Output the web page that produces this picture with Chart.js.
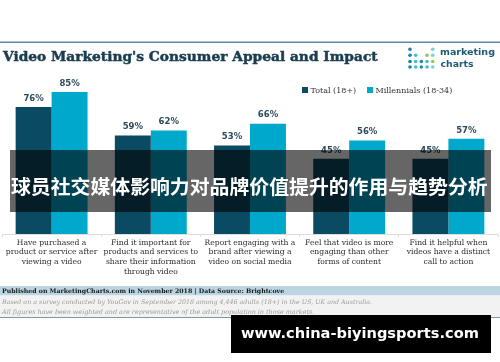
<!DOCTYPE html>
<html><head><meta charset="utf-8">
<script src="https://cdn.jsdelivr.net/npm/chart.js@4"></script>
<style>html,body{margin:0;padding:0;background:#fff}#wrap{width:500px;height:362px;position:relative}</style>
</head><body><div id="wrap"><canvas id="c" width="500" height="362"></canvas></div>
<script>
const categories = [
  ["Have purchased a","product or service after","viewing a video"],
  ["Find it important for","products and services to","share their information","through video"],
  ["Report engaging with a","brand after viewing a","video on social media"],
  ["Feel that video is more","engaging than other","forms of content"],
  ["Find it helpful when","videos have a distinct","call to action"]
];
const totalValues = [76, 59, 53, 45, 45];
const millennialValues = [85, 62, 66, 56, 57];
const seriesNames = ["Total (18+)", "Millennials (18-34)"];
const titleText = "Video Marketing's Consumer Appeal and Impact";
const footerLines = [
  "Published on MarketingCharts.com in November 2018 | Data Source: Brightcove",
  "Based on a survey conducted by YouGov in September 2018 among 4,446 adults (18+) in the US, UK and Australia.",
  "All figures have been weighted and are representative of the adult population in those markets."
];
const overlayText = "球员社交媒体影响力对品牌价值提升的作用与趋势分析";
const watermarkText = "www.china-biyingsports.com";

const DARK = "#0b4a63", LIGHT = "#00a9cc";
const SERIF = "'DejaVu Serif', 'Liberation Serif', serif";
const SANS = "'DejaVu Sans', 'Liberation Sans', sans-serif";

function fitText(ctx, text, x, y, width, weight, family, baseSize, strokeW) {
  let size = baseSize;
  ctx.font = weight + " " + size + "px " + family;
  const w = ctx.measureText(text).width;
  size = size * width / w;
  ctx.font = weight + " " + size + "px " + family;
  ctx.fillText(text, x, y);
  if (strokeW) { ctx.strokeStyle = ctx.fillStyle; ctx.lineWidth = strokeW; ctx.strokeText(text, x, y); }
}

const decor = {
  id: 'decor',
  beforeDraw(chart) {
    const ctx = chart.ctx;
    ctx.save();
    ctx.fillStyle = "#fff"; ctx.fillRect(0,0,500,362);
    ctx.fillStyle = "#5f8aa3"; ctx.fillRect(0, 41.5, 500, 1.5);
    ctx.fillStyle = "#1b3d50"; ctx.textBaseline = "middle"; ctx.textAlign = "left";
    fitText(ctx, titleText, 3, 57, 375, "bold", SERIF, 15, 0.5);
    // logo dots
    const cols = [410, 415.7, 421.3, 427, 432.7];
    const rows = [49.3, 55.3, 61.5, 67];
    const pattern = [
      ["#1a7fae", 0, 0, 0, "#74d2da"],
      ["#1a7fae", "#3cc0d0", 0, "#8ccc50", "#74d2da"],
      ["#1a7fae", "#3cc0d0", "#2488b5", "#3cc0d0", "#8ccc50"],
      ["#1a7fae", "#3cc0d0", "#2488b5", "#3cc0d0", "#74d2da"]
    ];
    pattern.forEach((r, ri) => r.forEach((c, ci) => {
      if (!c) return;
      ctx.fillStyle = c;
      ctx.beginPath(); ctx.arc(cols[ci], rows[ri], 1.8, 0, Math.PI*2); ctx.fill();
    }));
    ctx.fillStyle = "#1c5a6f";
    fitText(ctx, "marketing", 440, 53, 55, "bold", SANS, 11);
    fitText(ctx, "charts", 440.5, 65, 33, "bold", SANS, 11);
    // legend
    chart.data.datasets.forEach((ds, i) => {
      const x0 = i === 0 ? 302 : 367;
      ctx.fillStyle = ds.backgroundColor;
      ctx.fillRect(x0, 87, 6, 6);
      ctx.fillStyle = "#333";
      ctx.font = "8px " + SERIF;
      ctx.fillText(ds.label, x0 + 8.5, 90.5);
    });
    ctx.restore();
  },
  afterDatasetsDraw(chart) {
    const ctx = chart.ctx;
    ctx.save();
    ctx.font = "bold 8.5px " + SANS;
    ctx.fillStyle = "#2d4b5b";
    ctx.textAlign = "center"; ctx.textBaseline = "middle";
    chart.data.datasets.forEach((ds, i) => {
      chart.getDatasetMeta(i).data.forEach((bar, j) => {
        ctx.fillText(ds.data[j] + "%", bar.x, bar.y - 8.5);
      });
    });
    ctx.restore();
  },
  afterDraw(chart) {
    const ctx = chart.ctx;
    ctx.save();
    ctx.fillStyle = "#bcd5e2"; ctx.fillRect(0, 286, 500, 9.5);
    ctx.fillStyle = "#f2f2f2"; ctx.fillRect(0, 295.5, 500, 21.5);
    ctx.fillStyle = "#7d9aab"; ctx.fillRect(0, 317, 500, 1);
    ctx.textAlign = "left"; ctx.textBaseline = "middle";
    ctx.fillStyle = "#1a1a1a";
    fitText(ctx, footerLines[0], 2, 291, 283, "bold", SERIF, 7.5);
    ctx.fillStyle = "#9a9a9a";
    fitText(ctx, footerLines[1], 2, 302, 371, "italic", SERIF, 7);
    fitText(ctx, footerLines[2], 2, 312, 313, "italic", SERIF, 7);
    ctx.fillStyle = "rgba(0,0,0,0.6)";
    ctx.fillRect(10, 150, 481, 62);
    ctx.fillStyle = "#fff"; ctx.textAlign = "left";
    fitText(ctx, overlayText, 11, 186, 477, "bold", "'Noto Sans CJK SC', sans-serif", 21);
    ctx.fillStyle = "#000"; ctx.fillRect(231, 315, 260, 38);
    ctx.fillStyle = "#fff";
    fitText(ctx, watermarkText, 241, 334.5, 238, "bold", SANS, 18);
    ctx.restore();
  }
};

new Chart(document.getElementById('c'), {
  type: 'bar',
  data: {
    labels: categories,
    datasets: [
      { label: seriesNames[0], data: totalValues, backgroundColor: DARK },
      { label: seriesNames[1], data: millennialValues, backgroundColor: LIGHT }
    ]
  },
  options: {
    responsive: false, animation: false,
    layout: { padding: { top: 67, left: 2, right: 2, bottom: 0 } },
    datasets: { bar: { barPercentage: 1.0, categoryPercentage: 0.725, borderWidth: 0 } },
    plugins: { legend: { display: false }, tooltip: { enabled: false } },
    scales: {
      y: { display: false, min: 0, max: 100 },
      x: {
        afterFit(s) { s.height = 128; },
        border: { color: "#dddddd", width: 1 },
        grid: { offset: true, drawOnChartArea: false, color: "#dddddd", tickLength: 3 },
        ticks: { color: "#2a2a2a", font: { family: SERIF, size: 7.6, lineHeight: 1.27 }, padding: 1, maxRotation: 0, autoSkip: false }
      }
    }
  },
  plugins: [decor]
});
</script></body></html>
